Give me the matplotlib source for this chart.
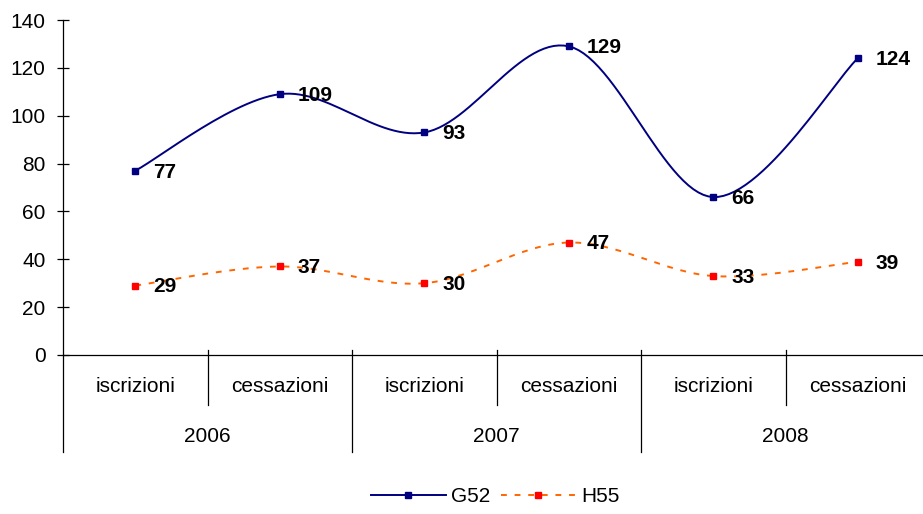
import numpy as np
from matplotlib import pyplot as plt

plt.rcParams['font.family'] = ['Liberation Sans', 'DejaVu Sans']

categories = ["iscrizioni", "cessazioni", "iscrizioni", "cessazioni", "iscrizioni", "cessazioni"]
years = ["2006", "2007", "2008"]
g52 = [77, 109, 93, 129, 66, 124]
h55 = [29, 37, 30, 47, 33, 39]


def smooth(xs, ys, n=30):
    # excel-like smoothed line: cubic bezier, catmull-rom control points
    pts = np.column_stack([xs, ys]).astype(float)
    out = []
    for i in range(len(pts) - 1):
        p0 = pts[i - 1] if i > 0 else pts[i]
        p1 = pts[i]
        p2 = pts[i + 1]
        p3 = pts[i + 2] if i + 2 < len(pts) else pts[i + 1]
        c1 = p1 + (p2 - p0) / 6
        c2 = p2 - (p3 - p1) / 6
        t = np.linspace(0, 1, n)[:, None]
        seg = (1 - t)**3 * p1 + 3 * (1 - t)**2 * t * c1 + 3 * (1 - t) * t**2 * c2 + t**3 * p2
        out.append(seg if i == 0 else seg[1:])
    seg = np.vstack(out)
    return seg[:, 0], seg[:, 1]


W, H = 923, 514
FS = 15
fig = plt.figure(figsize=(W / 100, H / 100), dpi=100)
ax = fig.add_axes([63 / W, (H - 355) / H, 867 / W, 335 / H])

x = np.arange(len(categories))
ax.set_xlim(-0.5, len(categories) - 0.5)
ax.set_ylim(0, 140)

sx, sy = smooth(x, g52)
ax.plot(sx, sy, color='#000080', lw=1.4, zorder=3)
ax.plot(x, g52, 's', color='#000080', ms=5, zorder=4)
sx, sy = smooth(x, h55)
ax.plot(sx, sy, color='#FF6600', lw=1.4, ls=(0, (3, 4)), zorder=3)
ax.plot(x, h55, 's', color='#FF0000', ms=5, zorder=4)

for series in (g52, h55):
    for xi, v in zip(x, series):
        ax.annotate(str(v), (xi, v), xytext=(13, -1), textcoords='offset points',
                    ha='left', va='center', fontsize=FS, fontweight='bold', zorder=5)

for s in ('top', 'right'):
    ax.spines[s].set_visible(False)
ax.spines['left'].set_linewidth(0.9)
ax.spines['bottom'].set_linewidth(0.9)

ax.set_yticks(np.arange(0, 141, 20))
ax.tick_params(axis='y', direction='inout', length=9, width=0.9, labelsize=FS, pad=8)
ax.set_xticks([])

# multi-level category axis
short = 50 / 335
long = 97 / 335
trans = ax.get_xaxis_transform()
ax.plot([-0.5, -0.5], [0, -long], color='black', lw=0.9, transform=trans, clip_on=False)
for b in np.arange(0.5, len(categories), 1):
    depth = long if int(b + 0.5) % 2 == 0 else short
    ax.plot([b, b], [0.015, -depth], color='black', lw=0.9, transform=trans, clip_on=False)
for xi, c in zip(x, categories):
    ax.text(xi, -32 / 335, c, transform=trans, ha='center', va='center', fontsize=FS)
for i, yr in enumerate(years):
    ax.text(2 * i + 0.5, -81 / 335, yr, transform=trans, ha='center', va='center', fontsize=FS)

h1, = ax.plot([], [], color='#000080', lw=1.4, marker='s', ms=5, mfc='#000080', mec='#000080')
h2, = ax.plot([], [], color='#FF6600', lw=1.4, ls=(0, (3, 4)), marker='s', ms=5,
              mfc='#FF0000', mec='#FF0000')
fig.legend([h1, h2], ['G52', 'H55'], loc='center', bbox_to_anchor=(495 / W, 1 - 497 / H),
           ncol=2, frameon=False, fontsize=FS, handlelength=3.6, handletextpad=0.25,
           columnspacing=0.5, markerscale=1)

fig.savefig('out.png', dpi=100)
